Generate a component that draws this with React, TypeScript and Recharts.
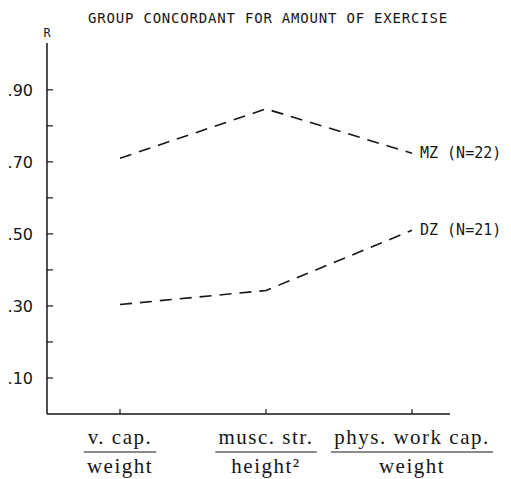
import React from 'react';
import { LineChart, Line, XAxis, YAxis, LabelList } from 'recharts';

// ratios on the x axis (numerator over denominator)
const measures = ['v. cap.', 'musc. str.', 'phys. work cap.'];
const denominators = ['weight', 'height²', 'weight'];

// R values
const mzValues = [0.71, 0.847, 0.724];
const dzValues = [0.304, 0.343, 0.51];
const seriesNames = ['MZ (N=22)', 'DZ (N=21)'];

const yTicks = [0.1, 0.2, 0.3, 0.4, 0.5, 0.6, 0.7, 0.8, 0.9];
const labelledTicks = [0.1, 0.3, 0.5, 0.7, 0.9];

const data = measures.map((m, i) => ({ name: m, mz: mzValues[i], dz: dzValues[i] }));

const INK = '#161616';
const SERIF = '"Liberation Serif", "DejaVu Serif", serif';
const MONO = '"DejaVu Sans Mono", "Liberation Mono", monospace';
const LABEL_SIZE = 21;
const LABEL_SPACING = 1.5;

let ctx: CanvasRenderingContext2D | null = null;
const textWidth = (s: string) => {
  if (!ctx) ctx = document.createElement('canvas').getContext('2d');
  if (!ctx) return s.length * LABEL_SIZE * 0.5;
  ctx.font = `${LABEL_SIZE}px ${SERIF}`;
  return ctx.measureText(s).width + (s.length - 1) * LABEL_SPACING;
};

const FractionTick = (props: any) => {
  const { x, y, payload } = props;
  const i = measures.indexOf(payload.value);
  const top = measures[i];
  const bottom = denominators[i];
  const w = Math.max(textWidth(top), textWidth(bottom)) + 8;
  const style = { fontFamily: SERIF, fontSize: LABEL_SIZE, letterSpacing: LABEL_SPACING, fill: INK };
  return (
    <g>
      <text x={x} y={y + 30} textAnchor="middle" style={style}>{top}</text>
      <line x1={x - w / 2} x2={x + w / 2} y1={y + 38} y2={y + 38} stroke={INK} strokeWidth={1} />
      <text x={x} y={y + 59} textAnchor="middle" style={style}>{bottom}</text>
    </g>
  );
};

const endLabel = (name: string) => (props: any) => {
  const { x, y, index } = props;
  if (index !== measures.length - 1) return null;
  return (
    <text x={x + 8} y={y + 5} style={{ fontFamily: MONO, fontSize: 15, fill: INK }}>{name}</text>
  );
};

const App = () => {
  return (
    <div style={{ position: 'absolute', left: 0, top: 0, width: 511, height: 479, background: '#fff' }}>
      <LineChart width={511} height={479} data={data} margin={{ top: 43, right: 61, left: 0, bottom: 0 }}>
        <XAxis
          dataKey="name"
          height={65}
          padding={{ left: 73, right: 38 }}
          interval={0}
          tickSize={-5}
          tickMargin={5}
          axisLine={{ stroke: INK, strokeWidth: 1.5 }}
          tickLine={{ stroke: INK, strokeWidth: 1.2 }}
          tick={<FractionTick />}
        />
        <YAxis
          width={47}
          type="number"
          domain={[0, 1.03]}
          ticks={yTicks}
          interval={0}
          tickSize={-6}
          tickMargin={20}
          axisLine={{ stroke: INK, strokeWidth: 1.5 }}
          tickLine={{ stroke: INK, strokeWidth: 1.2 }}
          tick={{ fill: INK, fontSize: 16, fontFamily: '"DejaVu Sans", sans-serif' }}
          tickFormatter={(v: number) =>
            labelledTicks.includes(v) ? '.' + String(Math.round(v * 100)).padStart(2, '0') : ''
          }
        />
        <Line
          type="linear"
          dataKey="mz"
          stroke={INK}
          strokeWidth={1.6}
          strokeDasharray="12 8"
          dot={false}
          activeDot={false}
          isAnimationActive={false}
        >
          <LabelList dataKey="mz" content={endLabel(seriesNames[0])} />
        </Line>
        <Line
          type="linear"
          dataKey="dz"
          stroke={INK}
          strokeWidth={1.6}
          strokeDasharray="12 8"
          dot={false}
          activeDot={false}
          isAnimationActive={false}
        >
          <LabelList dataKey="dz" content={endLabel(seriesNames[1])} />
        </Line>
      </LineChart>
      <svg width={511} height={60} style={{ position: 'absolute', left: 0, top: 0, pointerEvents: 'none' }}>
        <text x={268} y={23} textAnchor="middle" style={{ fontFamily: MONO, fontSize: 14, letterSpacing: 0.8, fill: INK }}>
          GROUP CONCORDANT FOR AMOUNT OF EXERCISE
        </text>
        <text x={47} y={37} textAnchor="middle" style={{ fontFamily: MONO, fontSize: 12, fill: INK }}>
          R
        </text>
      </svg>
    </div>
  );
};

export default App;
